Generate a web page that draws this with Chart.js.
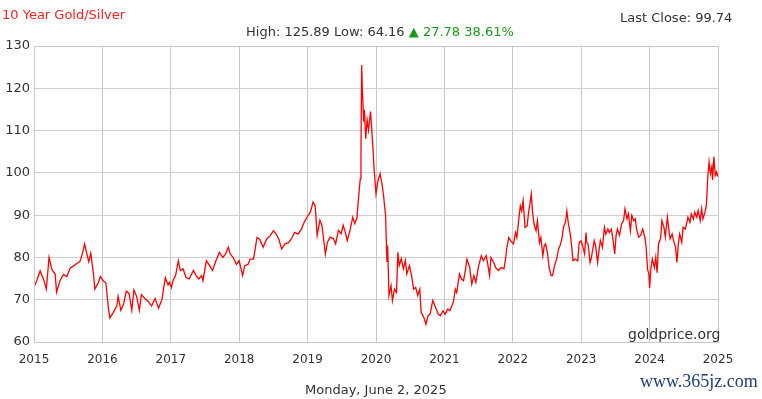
<!DOCTYPE html>
<html>
<head>
<meta charset="utf-8">
<script src="https://cdn.jsdelivr.net/npm/chart.js@4/dist/chart.umd.min.js"></script>
<style>
  html, body { margin:0; padding:0; background:#fff; }
  #wrap { position:relative; width:762px; height:399px; overflow:hidden; font-family:"DejaVu Sans", Verdana, sans-serif; }
  #c { position:absolute; left:0; top:0; }
  .t { position:absolute; white-space:nowrap; font-size:13px; color:#333; }
</style>
</head>
<body>
<div id="wrap">
  <canvas id="c" width="762" height="399"></canvas>
  <div class="t" id="title" style="left:2px; top:7px; color:#ff2020;"></div>
  <div class="t" id="stats" style="left:246px; top:24px;"></div>
  <div class="t" id="last" style="left:620px; top:10px;"></div>
  <div class="t" id="date" style="left:305px; top:382px;"></div>
  <div class="t" id="src" style="left:628px; top:326px; font-size:14px;"></div>
  <div class="t" id="wm" style="left:640px; top:371px; font-size:18px; color:#1d3f7a; font-family:'Liberation Serif', serif;"></div>
</div>
<script>
const titleText = "10 Year Gold/Silver";
const statsText = "High: 125.89 Low: 64.16";
const changeText = "\u25B2 27.78 38.61%";
const lastCloseText = "Last Close: 99.74";
const dateText = "Monday, June 2, 2025";
const sourceText = "goldprice.org";
const watermarkText = "www.365jz.com";

const yearTicks = [2015, 2016, 2017, 2018, 2019, 2020, 2021, 2022, 2023, 2024, 2025];
const ratioTicks = [60, 70, 80, 90, 100, 110, 120, 130];

const dates = [
2015.00,2015.04,2015.09,2015.14,2015.18,2015.22,2015.26,2015.31,2015.33,2015.38,
2015.43,2015.48,2015.53,2015.58,2015.62,2015.67,2015.71,2015.74,2015.77,2015.80,
2015.83,2015.87,2015.89,2015.94,2015.97,2016.01,2016.05,2016.09,2016.11,2016.16,
2016.21,2016.23,2016.27,2016.31,2016.35,2016.39,2016.43,2016.46,2016.50,2016.54,
2016.57,2016.62,2016.67,2016.72,2016.77,2016.82,2016.87,2016.92,2016.96,2016.98,
2017.01,2017.03,2017.07,2017.11,2017.14,2017.18,2017.22,2017.27,2017.33,2017.37,
2017.41,2017.45,2017.47,2017.52,2017.57,2017.61,2017.66,2017.71,2017.76,2017.80,
2017.84,2017.87,2017.91,2017.96,2018.00,2018.05,2018.08,2018.13,2018.16,2018.21,
2018.26,2018.30,2018.35,2018.40,2018.45,2018.50,2018.54,2018.58,2018.62,2018.67,
2018.72,2018.76,2018.81,2018.86,2018.91,2018.95,2018.99,
2019.04,2019.08,2019.11,2019.14,2019.18,2019.21,2019.26,2019.29,2019.33,2019.38,
2019.41,2019.45,2019.49,2019.52,2019.55,2019.58,2019.62,2019.66,2019.69,2019.72,
2019.75,2019.77,2019.78,2019.79,2019.80,2019.82,2019.83,2019.85,2019.87,2019.89,
2019.92,2019.94,2019.955,2019.975,2020.00,2020.03,2020.06,2020.09,2020.11,2020.14,
2020.16,2020.17,2020.19,2020.22,2020.24,2020.27,2020.30,2020.32,2020.34,2020.37,
2020.40,2020.43,2020.45,2020.49,2020.52,2020.55,2020.58,2020.61,2020.64,2020.66,
2020.70,2020.73,2020.76,2020.79,2020.83,2020.87,2020.91,2020.94,2020.98,2021.01,
2021.05,2021.08,
2021.10,2021.13,2021.16,2021.18,2021.22,2021.25,2021.28,2021.31,2021.33,2021.37,
2021.40,2021.43,2021.46,2021.50,2021.54,2021.57,2021.61,2021.63,2021.66,2021.68,
2021.72,2021.75,2021.79,2021.83,2021.87,2021.89,2021.91,2021.94,2021.97,2022.01,
2022.04,2022.06,2022.09,2022.11,2022.13,2022.15,2022.18,2022.21,2022.23,2022.25,
2022.27,2022.29,2022.31,2022.34,2022.36,2022.39,2022.41,2022.44,2022.46,2022.48,
2022.51,2022.53,2022.56,2022.58,2022.61,2022.64,2022.67,2022.70,2022.72,2022.74,
2022.77,2022.79,2022.81,2022.84,2022.86,2022.88,2022.91,2022.95,2022.97,2023.00,
2023.02,2023.05,2023.07,
2023.08,2023.10,2023.13,2023.15,2023.19,2023.21,2023.24,2023.26,2023.28,2023.31,
2023.34,2023.36,2023.39,2023.41,2023.44,2023.46,2023.49,2023.51,2023.53,2023.56,
2023.59,2023.62,2023.64,2023.67,2023.69,2023.72,2023.74,2023.77,2023.79,2023.81,
2023.84,2023.87,2023.90,2023.93,2023.95,2023.97,2023.99,2024.00,2024.02,2024.04,
2024.07,2024.09,2024.11,2024.13,2024.16,2024.18,2024.21,2024.23,2024.26,2024.28,
2024.30,2024.33,2024.35,2024.38,2024.40,2024.42,2024.44,2024.47,2024.49,2024.52,
2024.54,2024.56,2024.59,2024.61,2024.64,2024.66,2024.69,2024.71,2024.74,2024.76,
2024.78,2024.81,2024.83,2024.85,2024.87,2024.89,2024.91,2024.92,2024.94,2024.96,
2024.98,2024.99,2025.00
];

const ratios = [
73.0,74.5,76.8,74.8,72.5,80.0,77.2,76.0,71.8,74.5,
76.0,75.5,77.5,78.0,78.5,79.0,81.0,83.2,81.0,79.0,
81.0,76.0,72.5,74.0,75.5,74.5,74.0,67.7,65.7,67.0,
68.5,70.8,67.5,69.0,72.0,71.5,67.5,72.3,70.8,67.5,
71.2,70.3,69.6,68.5,70.3,68.0,70.0,75.2,73.5,74.1,
72.9,74.5,75.7,79.2,76.9,77.3,75.3,74.9,76.9,75.7,
74.9,75.7,74.5,79.2,78.0,76.9,79.2,81.2,80.0,80.8,
82.4,80.8,80.0,78.4,79.2,75.7,78.0,78.4,79.6,79.6,
84.7,84.3,82.4,84.3,85.1,86.3,85.5,84.3,82.0,83.2,
83.5,84.3,85.9,85.5,86.7,88.3,89.5,
90.7,93.1,92.3,85.2,88.8,87.6,80.8,83.6,84.8,84.4,
83.2,86.4,85.6,87.6,86.0,84.0,86.4,89.5,88.0,89.2,
95.1,98.6,104.2,125.5,120.0,112.1,114.9,108.1,112.5,110.1,
114.5,109.7,105.8,100.2,95.1,98.2,99.8,97.1,94.7,89.9,
78.9,82.8,71.0,73.3,69.8,72.5,71.7,81.2,78.1,79.7,
77.3,79.3,76.1,78.1,75.7,72.5,72.9,71.0,72.5,67.0,
65.8,64.2,66.2,66.6,69.8,68.2,66.6,66.2,67.4,66.6,
67.8,67.4,
68.2,69.4,72.5,71.7,76.1,74.9,74.5,77.3,79.6,77.6,
73.7,75.7,74.1,78.0,80.4,79.2,80.4,78.8,75.7,80.0,
78.8,77.6,76.9,77.6,77.3,79.2,82.0,84.7,83.9,83.2,
85.9,84.7,89.4,92.2,91.0,93.4,87.1,87.5,90.6,92.6,
95.0,90.6,87.9,86.3,88.7,83.5,84.7,80.4,82.8,83.2,
80.8,77.6,75.7,75.7,78.0,79.6,82.0,83.2,84.7,87.1,
88.3,91.0,88.3,85.5,82.8,79.2,79.6,79.2,83.5,83.9,
82.8,80.8,85.9,
83.6,83.2,78.8,80.0,84.0,82.8,78.8,81.6,84.0,82.4,
87.1,85.5,86.7,85.9,86.7,84.8,80.8,85.2,86.7,85.2,
87.9,88.7,91.5,89.1,90.3,86.3,89.9,88.7,89.1,86.7,
84.8,85.2,86.7,84.8,82.4,77.2,76.0,72.8,77.6,79.6,
77.6,80.0,76.4,83.2,84.4,88.7,87.1,84.8,89.5,86.7,
84.4,85.5,84.0,82.4,78.8,83.2,85.5,83.6,87.1,86.7,
87.9,89.5,88.3,90.3,89.1,90.7,89.5,91.1,88.7,91.5,
89.1,90.7,92.3,99.0,102.6,99.8,101.4,98.3,103.8,99.4,
100.2,99.4,99.74
];

document.getElementById('title').textContent = titleText;
document.getElementById('stats').innerHTML = statsText + ' <span style="color:#1a9a1a">' + changeText + '</span>';
document.getElementById('last').textContent = lastCloseText;
document.getElementById('date').textContent = dateText;
document.getElementById('src').textContent = sourceText;
document.getElementById('wm').textContent = watermarkText;

const points = dates.map((d, i) => ({ x: d, y: ratios[i] }));

new Chart(document.getElementById('c'), {
  type: 'line',
  data: {
    datasets: [{
      data: points,
      borderColor: '#ff0000',
      borderWidth: 1.3,
      pointRadius: 0,
      tension: 0,
      fill: false
    }]
  },
  options: {
    responsive: false,
    animation: false,
    events: [],
    layout: { padding: { left: 0, top: 46, right: 44, bottom: 0 } },
    plugins: { legend: { display: false }, tooltip: { enabled: false } },
    scales: {
      x: {
        type: 'linear',
        min: yearTicks[0],
        max: yearTicks[yearTicks.length - 1],
        afterBuildTicks: (s) => { s.ticks = yearTicks.map(v => ({ value: v })); },
        afterFit: (s) => { s.height = 57; },
        grid: { color: '#c8c8c8', lineWidth: 1, drawTicks: false },
        border: { color: '#c8c8c8', width: 1 },
        ticks: { padding: 11, color: '#333', font: { family: 'DejaVu Sans', size: 12 }, callback: (v) => String(v), maxRotation: 0 }
      },
      y: {
        min: ratioTicks[0],
        max: ratioTicks[ratioTicks.length - 1],
        afterBuildTicks: (s) => { s.ticks = ratioTicks.map(v => ({ value: v })); },
        afterFit: (s) => { s.width = 34; },
        grid: { color: '#d0d0d0', lineWidth: 1, drawTicks: false },
        border: { color: '#c8c8c8', width: 1 },
        ticks: { padding: 4, color: '#333', font: { family: 'DejaVu Sans', size: 13 } }
      }
    }
  },
  plugins: [{
    id: 'frame',
    afterDraw(chart) {
      const { ctx, chartArea: a } = chart;
      ctx.save();
      ctx.strokeStyle = '#c8c8c8';
      ctx.lineWidth = 1;
      ctx.strokeRect(a.left + 0.5, a.top + 0.5, a.right - a.left, a.bottom - a.top);
      ctx.restore();
    }
  }]
});
</script>
</body>
</html>
